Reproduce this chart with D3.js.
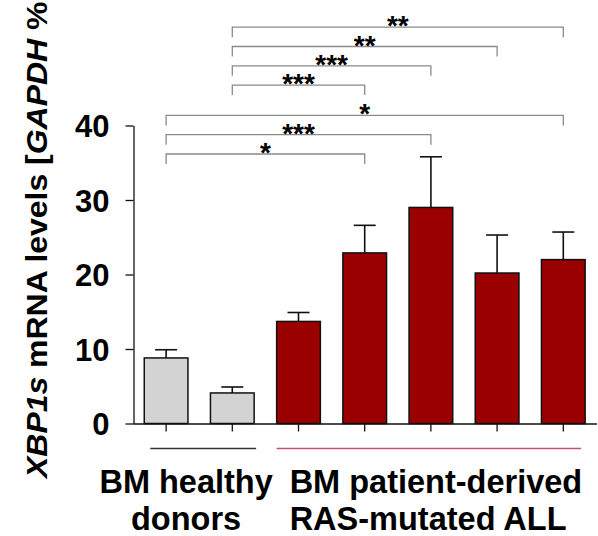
<!DOCTYPE html>
<html>
<head>
<meta charset="utf-8">
<script src="https://cdn.jsdelivr.net/npm/d3@7"></script>
<style>
  html, body { margin: 0; padding: 0; background: #fff; }
  svg { display: block; font-family: Arial, "Liberation Sans", Helvetica, sans-serif; }
</style>
</head>
<body>
<svg id="chart" width="598" height="536"></svg>
<script>
// XBP1s expression per sample: mean and upper SD
const samples = ["HD1", "HD2", "ALL1", "ALL2", "ALL3", "ALL4", "ALL5"];
const means   = [8.8, 4.1, 13.7, 22.9, 29.0, 20.2, 22.0];
const errors  = [1.1, 0.8, 1.2, 3.7, 6.8, 5.1, 3.7];
const groupOf = ["healthy", "healthy", "ras", "ras", "ras", "ras", "ras"];
const yTicks  = [0, 10, 20, 30, 40];

// significance brackets: [from sample index, to sample index, stars], stacked bottom-up
const comparisons = [
  [0, 3, "*"],
  [0, 4, "***"],
  [0, 6, "*"],
  [1, 3, "***"],
  [1, 4, "***"],
  [1, 5, "**"],
  [1, 6, "**"]
];

// group captions under the axis
const groups = [
  { key: "healthy", lines: ["BM healthy", "donors"] },
  { key: "ras", lines: ["BM patient-derived", "RAS-mutated ALL"] }
];

const fillColor = { healthy: "#d3d3d3", ras: "#9b0000" };
const groupLineColor = { healthy: "#333333", ras: "#c0507a" };

const svg = d3.select("#chart");

const x = d3.scaleBand()
  .domain(d3.range(samples.length))
  .range([133, 596.4])
  .paddingInner(0.34)
  .paddingOuter(0.17);

const y = d3.scaleLinear().domain([0, 40]).range([423.5, 125.5]);

// y axis
const yAxis = svg.append("g")
  .attr("transform", "translate(133.5,0)")
  .call(d3.axisLeft(y).tickValues(yTicks).tickSize(8).tickSizeOuter(0).tickPadding(16));
yAxis.select(".domain").attr("stroke", "#111").attr("stroke-width", 1.3);
yAxis.selectAll(".tick line").attr("stroke", "#111").attr("stroke-width", 1.3);
yAxis.selectAll(".tick text")
  .attr("fill", "#000")
  .style("font-size", "31px")
  .style("font-weight", "bold")
  .attr("dy", "0.36em");

// y axis title
const title = svg.append("text")
  .attr("transform", "translate(47,478) rotate(-90) scale(1.065,1)")
  .attr("fill", "#000")
  .style("font-size", "30px")
  .style("font-weight", "bold");
title.append("tspan").style("font-style", "italic").text("XBP1s");
title.append("tspan").text(" mRNA levels [");
title.append("tspan").style("font-style", "italic").text("GAPDH");
title.append("tspan").text(" %");

// bars
svg.append("g").selectAll("rect")
  .data(means)
  .join("rect")
  .attr("x", (d, i) => x(i))
  .attr("y", d => y(d))
  .attr("width", x.bandwidth())
  .attr("height", d => y(0) - y(d))
  .attr("fill", (d, i) => fillColor[groupOf[i]])
  .attr("stroke", "#111")
  .attr("stroke-width", 1.5);

// upper error bars
const capHalf = 11;
const eb = svg.append("g").attr("stroke", "#111").attr("stroke-width", 1.6);
means.forEach((m, i) => {
  const cx = x(i) + x.bandwidth() / 2;
  eb.append("line").attr("x1", cx).attr("x2", cx).attr("y1", y(m)).attr("y2", y(m + errors[i]));
  eb.append("line").attr("x1", cx - capHalf).attr("x2", cx + capHalf)
    .attr("y1", y(m + errors[i])).attr("y2", y(m + errors[i]));
});

// x axis baseline with ticks at bar centres
const xAxis = svg.append("g")
  .attr("transform", `translate(0,${y(0)})`)
  .call(d3.axisBottom(x).tickSize(8).tickSizeOuter(0).tickFormat(""));
xAxis.select(".domain").attr("stroke", "#111").attr("stroke-width", 1.3);
xAxis.selectAll(".tick line").attr("stroke", "#111").attr("stroke-width", 1.3);

// group underline and captions
groups.forEach(g => {
  const idx = d3.range(samples.length).filter(i => groupOf[i] === g.key);
  const first = idx[0], last = idx[idx.length - 1];
  const x0 = g.key === "healthy" ? x(first) + 6 : x(first);
  const x1 = g.key === "healthy" ? x(last) + x.bandwidth() + 2 : x(last) + x.bandwidth() - 4;
  svg.append("line")
    .attr("x1", x0).attr("x2", x1).attr("y1", 448.5).attr("y2", 448.5)
    .attr("stroke", groupLineColor[g.key]).attr("stroke-width", 1.3);
  const anchor = g.key === "healthy" ? "middle" : "start";
  const tx = g.key === "healthy" ? x(first) + x.bandwidth() / 2 + 20 : x(first) + 13;
  g.lines.forEach((line, k) => {
    svg.append("text")
      .attr("x", tx)
      .attr("y", 493 + k * 37)
      .attr("text-anchor", anchor)
      .attr("fill", "#000")
      .style("font-size", "32.5px")
      .style("font-weight", "bold")
      .text(line);
  });
});

// significance brackets
const tierY = t => 154 - t * 19.3 - (t >= 3 ? 11 : 0);
const drop = 10;
const br = svg.append("g");
comparisons.forEach(([a, b, stars], t) => {
  const xa = x(a) + x.bandwidth() / 2;
  const xb = x(b) + x.bandwidth() / 2;
  const yy = tierY(t);
  br.append("path")
    .attr("d", `M${xa},${yy + drop}V${yy}H${xb}V${yy + drop}`)
    .attr("fill", "none")
    .attr("stroke", "#8a8a8a")
    .attr("stroke-width", 1.3);
  br.append("text")
    .attr("x", (xa + xb) / 2)
    .attr("y", yy + 8)
    .attr("text-anchor", "middle")
    .attr("fill", "#000")
    .style("font-size", "28px")
    .style("font-weight", "bold")
    .text(stars);
});
</script>
</body>
</html>
